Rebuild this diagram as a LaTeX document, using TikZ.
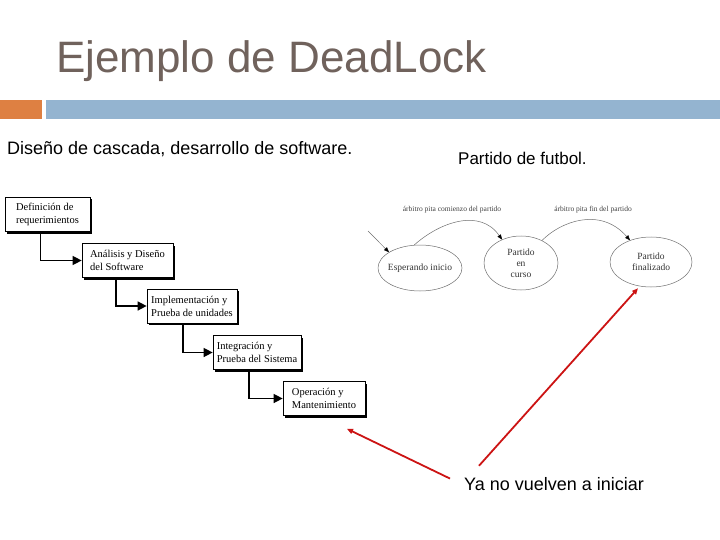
\documentclass[tikz,border=0pt]{standalone}
\usepackage{fontspec}
\setmainfont{Liberation Serif}
\setsansfont{Liberation Sans}
\usepackage{xcolor}
\usepackage{tikz}
\usetikzlibrary{positioning}
\usetikzlibrary{arrows.meta}
\usetikzlibrary{shadows}
\usetikzlibrary{shapes.geometric}
\definecolor{titulo}{RGB}{112,98,92}
\definecolor{naranja}{RGB}{222,128,66}
\definecolor{azul}{RGB}{148,180,208}
\definecolor{rojo}{RGB}{204,20,20}
\definecolor{gris}{RGB}{110,110,110}

\begin{document}
\begin{tikzpicture}[x=1pt,y=-1pt,
    fase/.style={draw,fill=white,line width=0.7pt,minimum height=34pt,inner sep=1pt,align=left,
        font=\fontsize{10.5}{13}\selectfont,
        drop shadow={shadow xshift=2pt,shadow yshift=-2pt,fill=black,opacity=1}},
    paso/.style={line width=1.4pt,-{Triangle[length=9pt,width=9pt]}},
    estado/.style={ellipse,draw=gris,line width=0.5pt,inner sep=0pt},
    dentro/.style={font=\fontsize{9.5}{11}\selectfont,text=black!80,align=center},
    trans/.style={draw=gris,line width=0.5pt,-{Triangle[length=5pt,width=4pt,color=black]}},
    rotulo/.style={font=\fontsize{7.5}{9}\selectfont,text=black!75},
    roja/.style={draw=rojo,line width=1.8pt,-{Triangle[length=6pt,width=5pt]}}]
\useasboundingbox (0,0) rectangle (720,540);

% titulo y barras
\node[anchor=base west,inner sep=0pt,text=titulo,font=\sffamily\fontsize{44}{50}\selectfont] (tit) at (56,73) {Ejemplo de DeadLock};
\fill[naranja] (0,100) rectangle (42,119);
\fill[azul] (46,100) rectangle (720,119);

\node[anchor=base west,inner sep=0pt,font=\sffamily\fontsize{18}{20}\selectfont] (izq) at (7,155) {Diseño de cascada, desarrollo de software.};
\node[anchor=base west,inner sep=0pt,font=\sffamily\fontsize{17}{20}\selectfont] (der) at (458,165) {Partido de futbol.};

% cascada
\node[fase,minimum width=85pt] (req) at (47.5,214.5) {Definición de\\requerimientos};
\node[fase,minimum width=91pt] (ana) at (127.5,260.5) {Análisis y Diseño\\del Software};
\node[fase,minimum width=90pt] (imp) at (192,306) {Implementación y\\Prueba de unidades};
\node[fase,minimum width=88pt] (int) at (257,352.5) {Integración y\\Prueba del Sistema};
\node[fase,minimum width=82pt] (ope) at (324,398.5) {Operación y\\Mantenimiento};

\draw[paso] ([xshift=-7pt]req.south) |- (ana.west);
\draw[paso] ([xshift=-11.5pt]ana.south) |- (imp.west);
\draw[paso] ([xshift=-9pt]imp.south) |- (int.west);
\draw[paso] ([xshift=-8pt]int.south) |- (ope.west);

% partido
\node[estado,minimum width=84pt,minimum height=46pt,label={[dentro]center:Esperando inicio}] (esp) at (420,268) {};
\node[estado,minimum width=74pt,minimum height=54pt,label={[dentro]center:Partido\\en\\curso}] (cur) at (521,263) {};
\node[estado,minimum width=82pt,minimum height=50pt,label={[dentro]center:Partido\\finalizado}] (fin) at (651,262) {};
\coordinate (ini) at (368,231);

\draw[trans] (ini) -- (esp.153);
\draw[trans] (esp.104) .. controls (440,222) and (480,208) .. (cur.129);
\draw[trans] (cur.47) .. controls (560,222) and (600,206) .. (fin.134);
\node[rotulo] (l1) at (452,210) {árbitro pita comienzo del partido};
\node[rotulo] (l2) at (593,210) {árbitro pita fin del partido};

% nota
\node[anchor=base west,inner sep=0pt,font=\sffamily\fontsize{18}{20}\selectfont] (nota) at (464,490) {Ya no vuelven a iniciar};
\draw[roja] ([shift={(-14,-5)}]nota.west) -- ([xshift=23pt,yshift=-13pt]ope.south);
\draw[roja] ([shift={(15,-11)}]nota.north west) -- ([xshift=-13pt,yshift=-1pt]fin.south);
\end{tikzpicture}
\end{document}
